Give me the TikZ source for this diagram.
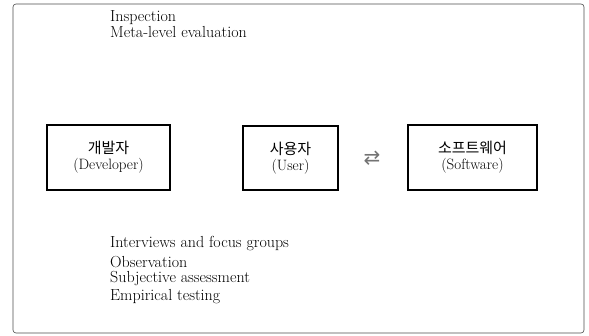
\documentclass[tikz,border=0pt]{standalone}
\usepackage{fontspec}
\newfontfamily\krfont{Noto Sans CJK KR}
\newfontfamily\symfont{DejaVu Sans}
\begin{document}
\begin{tikzpicture}[x=1pt,y=-1pt,
  txt/.style={anchor=west, inner sep=0pt, font=\fontsize{16}{17}\selectfont},
  box/.style={draw, line width=1.1pt, align=center, inner sep=0pt,
    font=\fontsize{15}{16}\selectfont}]
\useasboundingbox (0,0) rectangle (589,336);
\draw[rounded corners=3pt, line width=0.6pt, black!70] (13,4) rectangle (584,333);
\node[txt] (t1) at (110,18) {Inspection};
\node[txt] (t2) at (110,32) {Meta-level evaluation};
\node[box, minimum width=123pt, minimum height=65pt] (dev) at (108.5,157.5) {{\krfont 개발자}\\(Developer)};
\node[box, minimum width=95pt, minimum height=64pt] (user) at (290.5,158) {{\krfont 사용자}\\(User)};
\node[box, minimum width=129pt, minimum height=65pt] (sw) at (472.5,157.5) {{\krfont 소프트웨어}\\(Software)};
\node[inner sep=0pt, text=black!55, font=\symfont\fontsize{20}{20}\selectfont] (mid) at (372,158) {⇄};
\node[txt] (b1) at (110,244) {Interviews and focus groups};
\node[txt] (b2) at (110,262) {Observation};
\node[txt] (b3) at (110,279) {Subjective assessment};
\node[txt] (b4) at (110,297) {Empirical testing};
\end{tikzpicture}
\end{document}
